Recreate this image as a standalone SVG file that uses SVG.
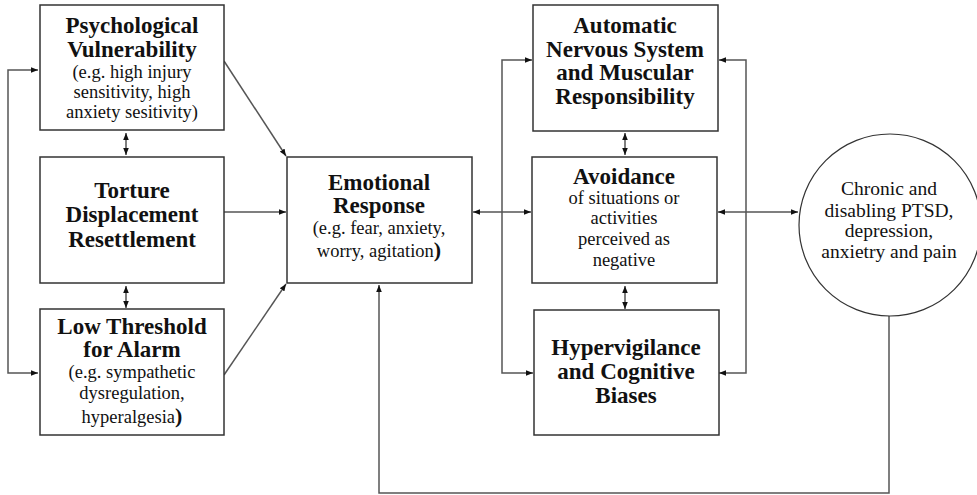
<svg xmlns="http://www.w3.org/2000/svg" width="977" height="495" viewBox="0 0 977 495">
<defs>
<marker id="ah" viewBox="0 0 10 10" refX="10" refY="5" markerWidth="7" markerHeight="7" markerUnits="userSpaceOnUse" orient="auto-start-reverse">
<path d="M0,1 L10,5 L0,9 z" fill="#111"/>
</marker>
<style>
.box{fill:#fff;stroke:#333;stroke-width:1.5}
.t{font-family:"Liberation Serif","Times New Roman",serif;font-weight:bold;font-size:23px;fill:#111;text-anchor:middle}
.s{font-family:"Liberation Serif","Times New Roman",serif;font-size:18.5px;fill:#111;text-anchor:middle}
.cs{font-size:19.5px}
.c{fill:none;stroke:#555;stroke-width:1.5}
.a1{marker-end:url(#ah)}
.a2{marker-start:url(#ah);marker-end:url(#ah)}
</style>
</defs>
<rect width="977" height="495" fill="#fff"/>
<g id="connectors">
<path class="c a2" d="M38,70 H8 V373 H38"/>
<path class="c a2" d="M126,133 V155"/>
<path class="c a2" d="M126,286 V308"/>
<path class="c a1" d="M224,61 L286,156"/>
<path class="c a1" d="M224,212 H286"/>
<path class="c a1" d="M224,375 L286,284"/>
<path class="c a2" d="M473,212 H531"/>
<path class="c a2" d="M532,60 H502 V373 H533"/>
<path class="c a2" d="M719,60 H746 V373 H719"/>
<path class="c a2" d="M625,133 V155"/>
<path class="c a2" d="M625,286 V309"/>
<path class="c a2" d="M718,212 H798"/>
<path class="c a1" d="M889,316 V493 H379 V285"/>
</g>
<g id="psych">
<rect class="box" x="40" y="5" width="184" height="125"/>
<text class="t" x="132" y="33">Psychological</text>
<text class="t" x="132" y="57">Vulnerability</text>
<text class="s" x="132" y="78">(e.g. high injury</text>
<text class="s" x="132" y="98">sensitivity, high</text>
<text class="s" x="132" y="118">anxiety sesitivity)</text>
</g>
<g id="torture">
<rect class="box" x="40" y="157" width="184" height="126"/>
<text class="t" x="132" y="198">Torture</text>
<text class="t" x="132" y="222">Displacement</text>
<text class="t" x="132" y="247">Resettlement</text>
</g>
<g id="lowthreshold">
<rect class="box" x="40" y="309" width="184" height="126"/>
<text class="t" x="132" y="334">Low Threshold</text>
<text class="t" x="132" y="357">for Alarm</text>
<text class="s" x="132" y="378">(e.g. sympathetic</text>
<text class="s" x="132" y="399">dysregulation,</text>
<text class="s" x="132" y="423">hyperalgesia<tspan font-weight="bold" font-size="22">)</tspan></text>
</g>
<g id="emotional">
<rect class="box" x="287" y="157" width="185" height="126"/>
<text class="t" x="379" y="190">Emotional</text>
<text class="t" x="379" y="213">Response</text>
<text class="s" x="379" y="234">(e.g. fear, anxiety,</text>
<text class="s" x="379" y="257">worry, agitation<tspan font-weight="bold" font-size="22">)</tspan></text>
</g>
<g id="automatic">
<rect class="box" x="533" y="5" width="185" height="126"/>
<text class="t" x="625" y="33">Automatic</text>
<text class="t" x="625" y="57">Nervous System</text>
<text class="t" x="625" y="80">and Muscular</text>
<text class="t" x="625" y="104">Responsibility</text>
</g>
<g id="avoidance">
<rect class="box" x="532" y="157" width="185" height="126"/>
<text class="t" x="624" y="184">Avoidance</text>
<text class="s" x="624" y="204">of situations or</text>
<text class="s" x="624" y="224">activities</text>
<text class="s" x="624" y="245">perceived as</text>
<text class="s" x="624" y="266">negative</text>
</g>
<g id="hypervigilance">
<rect class="box" x="534" y="310" width="185" height="125"/>
<text class="t" x="626" y="355">Hypervigilance</text>
<text class="t" x="626" y="379">and Cognitive</text>
<text class="t" x="626" y="403">Biases</text>
</g>
<g id="outcome">
<circle cx="890" cy="225" r="91" fill="#fff" stroke="#333" stroke-width="1.2"/>
<text class="s cs" x="889" y="195">Chronic and</text>
<text class="s cs" x="889" y="217">disabling PTSD,</text>
<text class="s cs" x="889" y="237">depression,</text>
<text class="s cs" x="889" y="258">anxietry and pain</text>
</g>
</svg>
